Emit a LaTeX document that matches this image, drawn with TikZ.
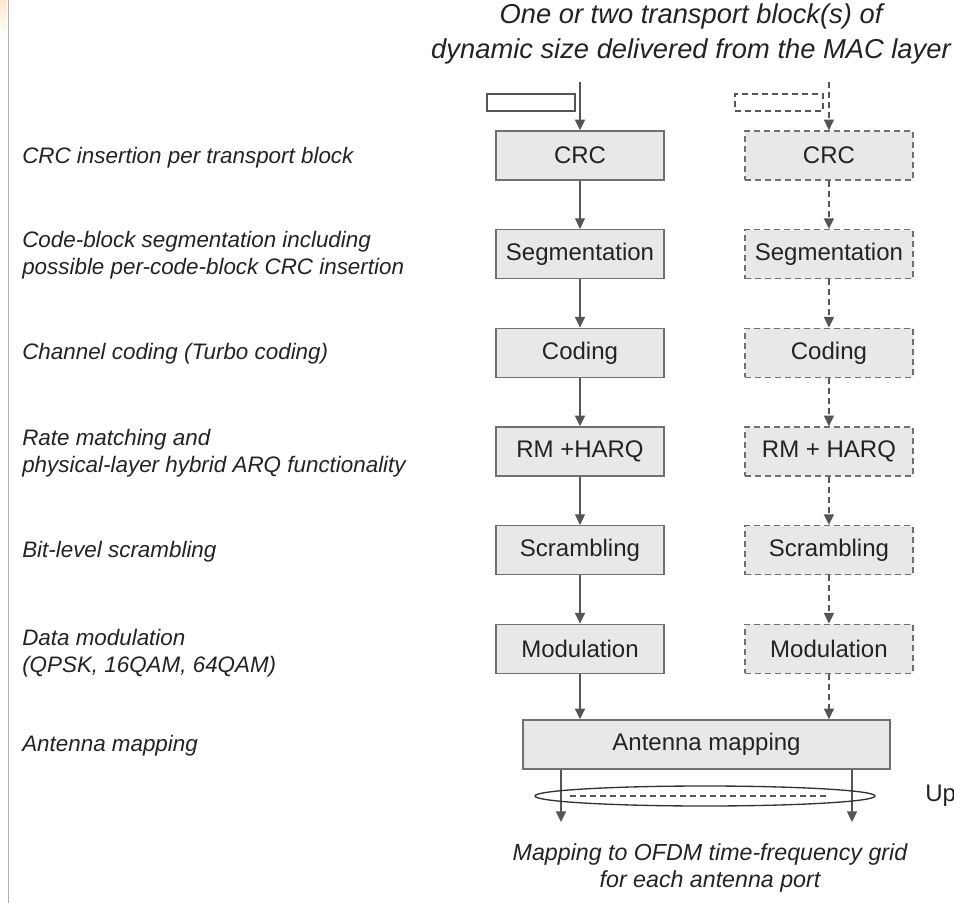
\documentclass[tikz,border=0pt]{standalone}
\usepackage{fontspec}
\setmainfont{Liberation Sans}
\usetikzlibrary{positioning,arrows.meta,shapes.geometric}
\definecolor{myboxgray}{RGB}{232,232,232}
\definecolor{mylinegray}{RGB}{112,112,112}
\definecolor{myarrowgray}{RGB}{85,85,85}
\definecolor{mytextgray}{RGB}{35,35,35}

\begin{document}
\begin{tikzpicture}[
  x=0.75pt, y=-0.75pt,
  node distance=36.15pt,
  myblock/.style={
    draw=mylinegray,
    fill=myboxgray,
    line width=1.1pt,
    minimum width=126pt,
    minimum height=36.75pt,
    inner sep=0pt,
    text=mytextgray,
    font=\fontsize{18}{21}\selectfont
  },
  mydashblock/.style={myblock, dash pattern=on 4.5pt off 3pt},
  mylabel/.style={
    anchor=west,
    align=left,
    inner sep=0pt,
    text=mytextgray,
    font=\fontsize{16.8}{20.25}\selectfont\itshape
  },
  myarrow/.style={
    draw=myarrowgray,
    line width=1.1pt,
    -{Triangle[width=7.5pt,length=8pt]}
  },
  mydasharrow/.style={myarrow, dash pattern=on 4.5pt off 3pt},
  mytb/.style={
    draw=myarrowgray,
    fill=white,
    line width=1.1pt,
    minimum width=66pt,
    minimum height=12.75pt,
    inner sep=0pt
  }
]
\useasboundingbox (0,0) rectangle (954,903);
% slide edge
\shade [top color=orange!18, bottom color=white] (0,0) rectangle (7,40);
\draw [black!30, line width=0.75pt] (8,0) -- (8,903);

% title and footer
\node [align=center, text=mytextgray, font=\fontsize{20.5}{26}\selectfont\itshape] (title) at (691,34)
  {One or two transport block(s) of\\dynamic size delivered from the MAC layer};
\node [align=center, text=mytextgray, font=\fontsize{17.4}{20.25}\selectfont\itshape] (foot) at (710,868)
  {Mapping to OFDM time-frequency grid\\for each antenna port};

% first transport block
\node [myblock] (crcA) at (580,155.5) {CRC};
\node [myblock, below=of crcA] (segA) {Segmentation};
\node [myblock, below=of segA] (codA) {Coding};
\node [myblock, below=of codA] (rmA) {RM +HARQ};
\node [myblock, below=of rmA] (scrA) {Scrambling};
\node [myblock, below=of scrA] (modA) {Modulation};

% second transport block
\node [mydashblock, right=59.6pt of crcA] (crcB) {CRC};
\node [mydashblock, below=of crcB] (segB) {Segmentation};
\node [mydashblock, below=of segB] (codB) {Coding};
\node [mydashblock, below=of codB] (rmB) {RM + HARQ};
\node [mydashblock, below=of rmB] (scrB) {Scrambling};
\node [mydashblock, below=of scrB] (modB) {Modulation};

\node [myblock, minimum width=275.25pt] (ant) at (706.5,744.5) {Antenna mapping};

% transport blocks
\node [mytb] (tbA) at (531,102.5) {};
\node [mytb, dash pattern=on 4.5pt off 3pt] (tbB) at (779,102.5) {};

\coordinate (inA) at ([yshift=36pt]crcA.north);
\coordinate (inB) at ([yshift=36pt]crcB.north);
\draw [myarrow] (inA) -- (crcA);
\draw [mydasharrow] (inB) -- (crcB);

\foreach \a/\b in {crc/seg, seg/cod, cod/rm, rm/scr, scr/mod} {
  \draw [myarrow] (\a A) -- (\b A);
  \draw [mydasharrow] (\a B) -- (\b B);
}
\draw [myarrow] (modA) -- (modA |- ant.north);
\draw [mydasharrow] (modB) -- (modB |- ant.north);

% antenna ports
\coordinate (outA) at (561,822);
\coordinate (outB) at (852,822);
\draw [myarrow] (outA |- ant.south) -- (outA);
\draw [myarrow] (outB |- ant.south) -- (outB);
\node [ellipse, draw=black!80, line width=1pt, minimum width=255pt, minimum height=15pt, inner sep=0pt] (grp) at (705,796) {};
\draw [myarrowgray, line width=1pt, dash pattern=on 4.5pt off 3pt] ([xshift=27pt]grp.west) -- ([xshift=-35pt]grp.east);
\node [anchor=west, inner sep=0pt, text=mytextgray, font=\fontsize{18}{21}\selectfont] (up) at (925,796) {Up};

% processing steps
\coordinate (lblx) at (22,0);
\node [mylabel] (lcrc) at ([yshift=-1.5pt]lblx |- crcA) {CRC insertion per transport block};
\node [mylabel] (lseg) at ([yshift=-1pt]lblx |- segA) {Code-block segmentation including\\possible per-code-block CRC insertion};
\node [mylabel] (lcod) at ([yshift=-1pt]lblx |- codA) {Channel coding (Turbo coding)};
\node [mylabel] (lrm) at ([yshift=-1pt]lblx |- rmA) {Rate matching and\\physical-layer hybrid ARQ functionality};
\node [mylabel] (lscr) at ([yshift=-1pt]lblx |- scrA) {Bit-level scrambling};
\node [mylabel] (lmod) at ([yshift=-3pt]lblx |- modA) {Data modulation\\(QPSK, 16QAM, 64QAM)};
\node [mylabel] (lant) at ([yshift=-1pt]lblx |- ant) {Antenna mapping};

\end{tikzpicture}
\end{document}
